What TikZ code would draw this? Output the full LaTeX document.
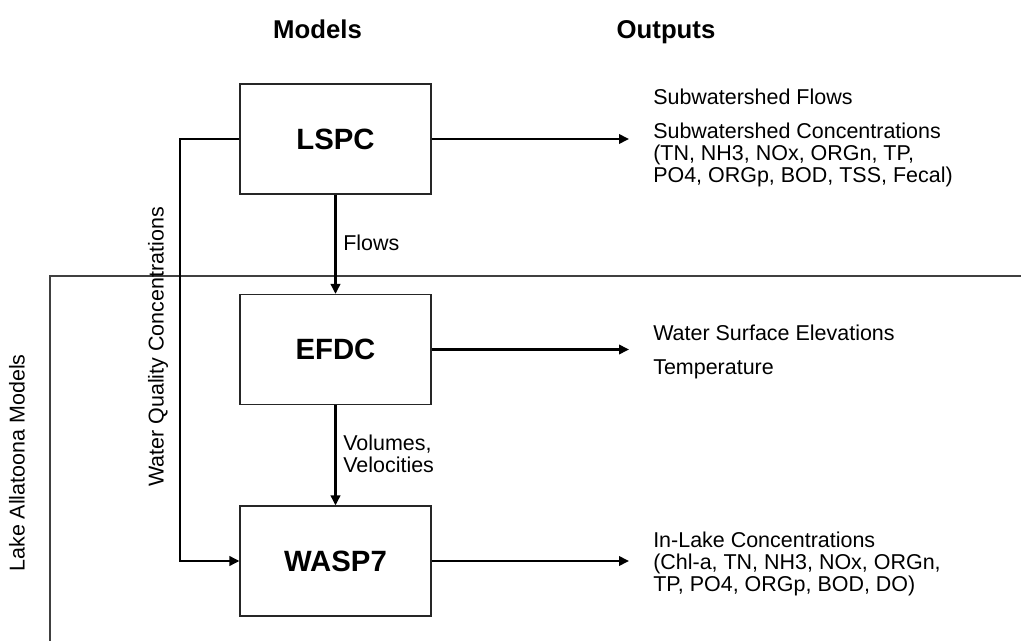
\documentclass[tikz,border=0pt]{standalone}
\usepackage{fontspec}
\setmainfont{Liberation Sans}
\usetikzlibrary{arrows.meta}

\tikzset{
  modelbox/.style={draw=black!85, line width=0.8pt, minimum width=143.25pt,
    minimum height=82.5pt, inner sep=0pt, font=\fontsize{22}{26}\selectfont\bfseries},
  flow/.style={line width=2.2pt, -{Triangle[length=7.5pt,width=7pt]}},
  outtext/.style={anchor=west, inner sep=0pt, align=left,
    font=\fontsize{16.1}{16.6}\selectfont},
  heading/.style={inner sep=0pt, anchor=base, font=\fontsize{19.3}{23}\selectfont\bfseries},
}

\begin{document}
\begin{tikzpicture}[x=0.75pt, y=-0.75pt, font=\fontsize{16.1}{16.6}\selectfont]
  \useasboundingbox (0,0) rectangle (1021,641);

  \node[heading] (models) at (317.5,39) {Models};
  \node[heading] (outputs) at (666,39) {Outputs};

  \draw[black!75, line width=0.8pt] (1021,276) -- (50,276) -- (50,641);

  \node[modelbox] (lspc) at (335.5,139) {LSPC};
  \node[modelbox] (efdc) at (335.5,349.5) {EFDC};
  \node[modelbox] (wasp) at (335.5,561) {WASP7};

  \coordinate (lspcout) at (629,139);
  \coordinate (efdcout) at (629,349.5);
  \coordinate (waspout) at (629,561);
  \coordinate (wq1) at (180,139);
  \coordinate (wq2) at (180,561);

  \draw[flow] (lspc) -- (efdc);
  \draw[flow] (efdc) -- (wasp);
  \draw[flow] (lspc.east) -- (lspcout);
  \draw[flow] (efdc.east) -- (efdcout);
  \draw[flow] (wasp.east) -- (waspout);
  \draw[flow] (lspc.west) -- (wq1) -- (wq2) -- (wasp.west);

  \node[outtext] (flows) at (343,243) {Flows};
  \node[outtext] (volvel) at (343,454) {Volumes,\\Velocities};
  \node[inner sep=0pt, rotate=90] (wqc) at (158,347) {Water Quality Concentrations};
  \node[inner sep=0pt, rotate=90] (lake) at (17,463) {Lake Allatoona Models};

  \node[outtext] (subflows) at (653,97) {Subwatershed Flows};
  \node[outtext] (subconc) at (653,155) {Subwatershed Concentrations\\(TN, NH3, NOx, ORGn, TP,\\PO4, ORGp, BOD, TSS, Fecal)};
  \node[outtext] (wse) at (653,333) {Water Surface Elevations};
  \node[outtext] (temp) at (653,369) {Temperature};
  \node[outtext] (inlake) at (653,564) {In-Lake Concentrations\\(Chl-a, TN, NH3, NOx, ORGn,\\TP, PO4, ORGp, BOD, DO)};
\end{tikzpicture}
\end{document}
